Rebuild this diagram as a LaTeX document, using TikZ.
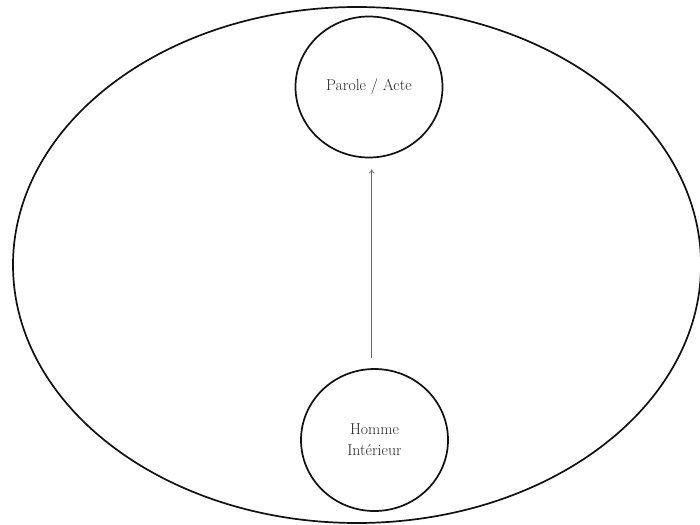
\documentclass[tikz,border=0pt]{standalone}
\usepackage{xcolor}
\usepackage{tikz}
\usetikzlibrary{positioning,arrows.meta,shapes.geometric}
\definecolor{inktext}{HTML}{2A2A2A}
\definecolor{inkline}{HTML}{111111}

\begin{document}
\begin{tikzpicture}[
  x=1pt, y=-1pt,
  bubble/.style={draw=inkline, line width=1.7pt, ellipse, inner sep=0pt, align=center, text=inktext, font=\fontsize{15.8}{21}\selectfont},
  arr/.style={-{To[length=4pt,width=6pt]}, line width=0.6pt, color=black!60}
]
\useasboundingbox (0,0) rectangle (700,524);
\node[draw=inkline, line width=1.7pt, ellipse, minimum width=688pt, minimum height=516pt] (world) at (357,265) {};
\node[bubble, minimum width=147pt, minimum height=141pt] (parole) at (369,87) {Parole / Acte};
\node[bubble, minimum width=147pt, minimum height=142pt] (homme) at (374.5,440) {Homme\\Intérieur};
\draw[arr] ([xshift=-2.8pt, yshift=10pt]homme.north) -- ([xshift=2.7pt, yshift=-11pt]parole.south);
\end{tikzpicture}
\end{document}
